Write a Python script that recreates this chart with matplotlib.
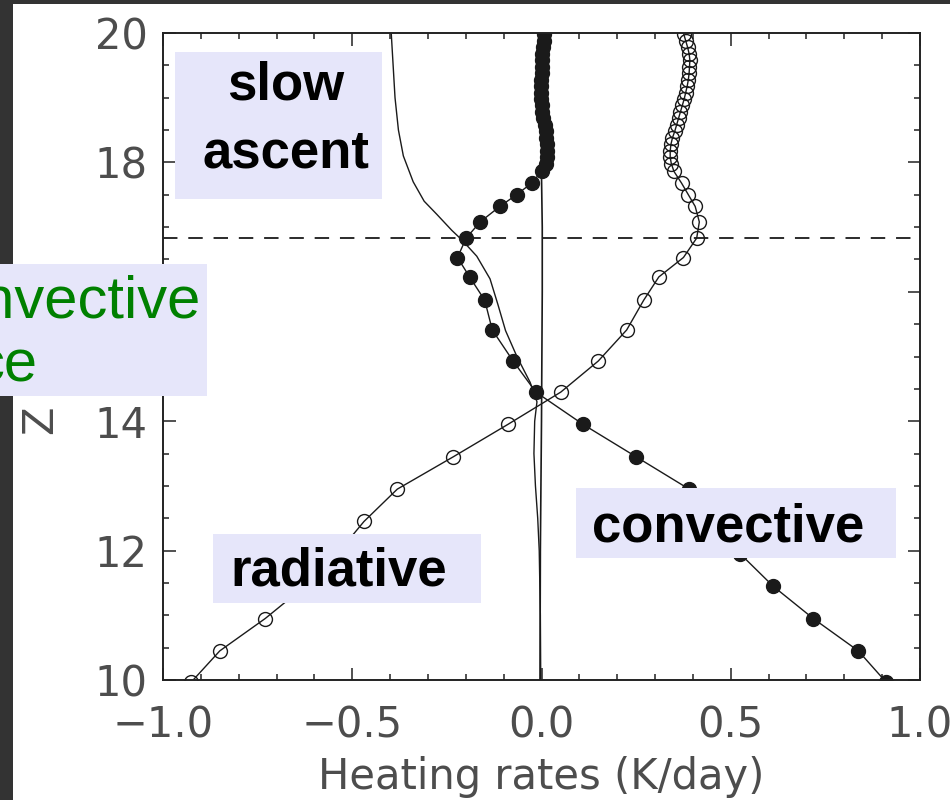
import matplotlib
matplotlib.use("Agg")
import matplotlib.pyplot as plt
from matplotlib.patches import Rectangle
from matplotlib.ticker import MultipleLocator

# model levels (km) shared by the two marker profiles
z_levels = [9.97, 10.45, 10.95, 11.45, 11.95, 12.45, 12.95, 13.45, 13.95, 14.45,
            14.93, 15.41, 15.87, 16.23, 16.53, 16.83, 17.08, 17.32, 17.50, 17.68,
            17.86, 17.98, 18.08, 18.18, 18.28, 18.38, 18.48, 18.58, 18.68, 18.78,
            18.88, 18.98, 19.08, 19.18, 19.28, 19.38, 19.48, 19.58, 19.68, 19.78,
            19.88, 19.98]

# convective heating (filled circles), K/day
convective = [0.91, 0.837, 0.718, 0.612, 0.525, 0.455, 0.39, 0.25, 0.11, -0.015,
              -0.075, -0.13, -0.15, -0.19, -0.222, -0.199, -0.162, -0.11, -0.066, -0.026,
              0.0, 0.012, 0.015, 0.015, 0.014, 0.013, 0.011, 0.008, 0.004, 0.001,
              0.0, -0.001, -0.002, -0.002, -0.001, 0.0, 0.0, 0.001, 0.002, 0.004,
              0.006, 0.007]

# radiative heating (open circles), K/day
radiative = [-0.925, -0.85, -0.73, -0.625, -0.54, -0.469, -0.381, -0.233, -0.089, 0.051,
             0.15, 0.225, 0.27, 0.31, 0.375, 0.41, 0.417, 0.406, 0.388, 0.37,
             0.35, 0.343, 0.34, 0.34, 0.342, 0.346, 0.352, 0.357, 0.362, 0.367,
             0.372, 0.377, 0.381, 0.385, 0.388, 0.39, 0.391, 0.392, 0.39, 0.386,
             0.381, 0.376]

# thin curve without markers
z_thin = [10.0, 11.0, 12.0, 12.5, 13.0, 13.5, 14.0, 14.3, 14.6, 15.0, 15.4, 15.8,
          16.2, 16.55, 16.8, 16.95, 17.2, 17.4, 17.7, 18.1, 18.5, 19.0, 19.5, 20.0]
thin = [-0.002, -0.003, -0.006, -0.01, -0.016, -0.02, -0.018, -0.012, -0.03, -0.065,
        -0.095, -0.115, -0.136, -0.171, -0.21, -0.237, -0.277, -0.31, -0.339, -0.365,
        -0.378, -0.387, -0.392, -0.397]

# near-zero vertical profile
z_zero = [10.0, 12.0, 14.0, 16.0, 17.0, 17.8]
zero = [-0.004, -0.003, 0.0, 0.002, 0.002, 0.0]

z_dashed = 16.83

x_ticks = [-1.0, -0.5, 0.0, 0.5, 1.0]
y_ticks = [10, 12, 14, 16, 18, 20]

W, H = 950, 800
lavender = "#e6e6fa"
ink = "#1a1a1a"
grey = "#4d4d4d"

fig = plt.figure(figsize=(W / 100, H / 100), dpi=100, facecolor="white")
ax = fig.add_axes([163 / W, 1 - 680 / H, (920 - 163) / W, (680 - 33) / H])

ax.plot(thin, z_thin, color=ink, lw=1.0)
ax.plot(zero, z_zero, color=ink, lw=1.2)
ax.plot(convective, z_levels, color=ink, lw=1.0, marker="o", ms=10,
        mfc=ink, mec=ink, mew=1.0)
ax.plot(radiative, z_levels, color=ink, lw=1.0, marker="o", ms=10,
        mfc="none", mec=ink, mew=1.0)
ax.axhline(z_dashed, color=ink, lw=1.3, dashes=(8, 6))

ax.set_xlim(-1, 1)
ax.set_ylim(10, 20)
ax.set_xticks(x_ticks)
ax.set_yticks(y_ticks)
ax.xaxis.set_minor_locator(MultipleLocator(0.1))
ax.yaxis.set_minor_locator(MultipleLocator(0.5))
ax.tick_params(which="both", direction="in", top=True, right=True,
               color="#222222", width=1.1, labelcolor=grey, labelsize=30)
ax.tick_params(which="major", length=9)
ax.tick_params(which="minor", length=4.5)
ax.tick_params(axis="x", pad=18)
ax.tick_params(axis="y", pad=11)
for sp in ax.spines.values():
    sp.set_color("#222222")
    sp.set_linewidth(1.4)

ax.set_xlabel("Heating rates (K/day)", fontsize=30, color=grey, va="center")
ax.xaxis.set_label_coords(0.5, (680 - 777) / 647)
ax.set_ylabel("Z", fontsize=30, color=grey, va="center")
ax.yaxis.set_label_coords((40 - 163) / 757, (680 - 420) / 647)


def fx(px):
    return px / W


def fy(py):
    return 1 - py / H


def box(x0, y0, x1, y1, color=lavender, z=5):
    fig.add_artist(Rectangle((fx(x0), fy(y1)), (x1 - x0) / W, (y1 - y0) / H,
                             transform=fig.transFigure, facecolor=color,
                             edgecolor="none", zorder=z))


def label(x, y, s, **kw):
    fig.text(fx(x), fy(y), s, va="baseline", zorder=6,
             family="Liberation Sans", **kw)


# slide background strips
box(0, 0, 13, H, color="#333333", z=1)
box(0, 0, W, 4, color="#333333", z=1)

box(175, 52, 382, 199)
label(286, 100, "slow", ha="center", fontsize=38, weight="bold", color="black")
label(286, 167, "ascent", ha="center", fontsize=38, weight="bold", color="black")

box(0, 264, 207, 396)
label(201, 317, "convective", ha="right", fontsize=43, color="green")
label(38, 382, "ce", ha="right", fontsize=43, color="green")

box(213, 534, 481, 603)
label(230, 585, "radiative", ha="left", fontsize=38, weight="bold", color="black")

box(576, 488, 896, 558)
label(592, 542, "convective", ha="left", fontsize=38, weight="bold", color="black")

fig.savefig("out.png", dpi=100, facecolor="white")
